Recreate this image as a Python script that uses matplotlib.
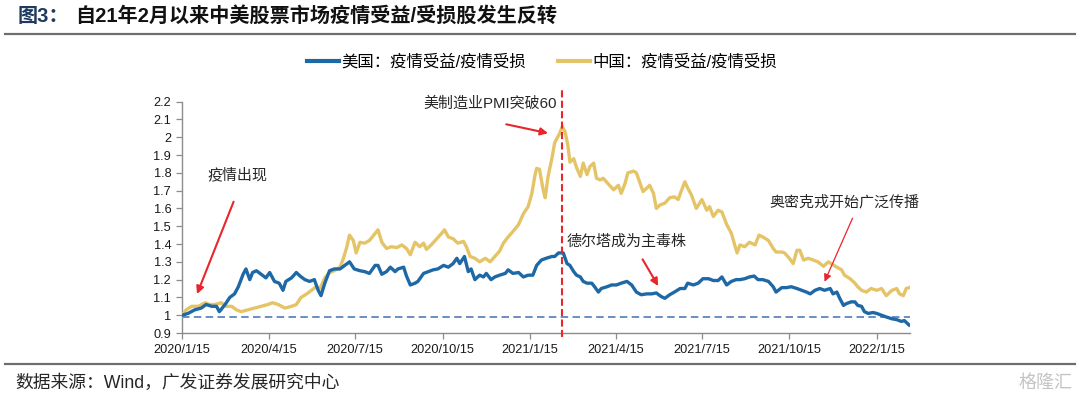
import matplotlib
matplotlib.use("Agg")
import matplotlib.pyplot as plt
import pandas as pd
from matplotlib.lines import Line2D
from matplotlib.ticker import FuncFormatter

plt.rcParams['font.family'] = ['Liberation Sans', 'Noto Sans CJK SC', 'DejaVu Sans']

# ---------------- data ----------------
start_date = "2020-01-15"
end_date = "2022-02-19"

# days since 2020-01-15 and ratio values (US: pandemic-beneficiary / pandemic-hurt)
us_days = [0, 6, 13, 20, 25, 31, 36, 39, 45, 50, 55, 59, 64, 67, 71, 74, 78, 83, 88, 92,
           97, 102, 106, 109, 115, 120, 124, 129, 134, 139, 143, 146, 150, 155, 160, 166, 171, 176, 181, 187,
           192, 197, 203, 206, 210, 215, 219, 224, 227, 233, 236, 240, 245, 248, 254, 259, 264, 269, 275, 280,
           285, 289, 292, 297, 301, 304, 308, 313, 317, 320, 325, 329, 334, 340, 343, 348, 354, 359, 364, 369,
           373, 378, 383, 389,
           392, 396, 401, 405, 408, 412, 415, 419, 422, 426, 431, 434, 438, 441, 447, 452, 457, 462, 468, 473,
           478, 483, 489, 494, 499, 504, 508, 513, 518, 524, 529, 532, 538, 543, 548, 554, 559, 564, 568, 573,
           578, 583,
           587, 592, 597, 602, 606, 611, 617, 622, 625, 631, 636, 641, 647, 652, 657, 661, 666, 671, 676, 682,
           685, 689, 692, 696, 699, 704, 708, 711, 715, 718, 722, 727, 731, 736, 741, 747, 752, 757, 760, 763, 765]
us_values = [1.00, 1.01, 1.03, 1.04, 1.06, 1.05, 1.05, 1.02, 1.06, 1.10, 1.12, 1.16, 1.23, 1.26, 1.20, 1.24, 1.25, 1.23, 1.21, 1.24,
             1.19, 1.18, 1.14, 1.19, 1.21, 1.24, 1.22, 1.20, 1.19, 1.20, 1.14, 1.11, 1.18, 1.25, 1.26, 1.26, 1.28, 1.30, 1.26, 1.25,
             1.245, 1.235, 1.28, 1.28, 1.23, 1.245, 1.27, 1.245, 1.26, 1.27, 1.22, 1.17, 1.18, 1.19, 1.235, 1.245, 1.255, 1.26, 1.28, 1.27,
             1.29, 1.32, 1.29, 1.33, 1.245, 1.26, 1.20, 1.225, 1.215, 1.235, 1.20, 1.215, 1.225, 1.235, 1.255, 1.235, 1.24, 1.215, 1.225, 1.225,
             1.28, 1.31, 1.32, 1.33,
             1.33, 1.35, 1.35, 1.29, 1.28, 1.245, 1.225, 1.215, 1.19, 1.18, 1.18, 1.16, 1.13, 1.15, 1.16, 1.17, 1.17, 1.18, 1.19, 1.17,
             1.13, 1.115, 1.12, 1.12, 1.125, 1.105, 1.095, 1.115, 1.13, 1.15, 1.15, 1.18, 1.17, 1.18, 1.205, 1.205, 1.195, 1.195, 1.215, 1.17,
             1.19, 1.20,
             1.20, 1.205, 1.215, 1.22, 1.20, 1.20, 1.19, 1.16, 1.13, 1.155, 1.155, 1.16, 1.15, 1.14, 1.13, 1.12, 1.14, 1.15, 1.14, 1.15,
             1.12, 1.13, 1.095, 1.055, 1.065, 1.075, 1.075, 1.055, 1.05, 1.02, 1.01, 1.015, 1.01, 1.00, 0.99, 0.98, 0.975, 0.965, 0.97, 0.955, 0.945]

cn_days = [0, 4, 10, 17, 24, 29, 34, 41, 46, 52, 57, 62, 69, 76, 83, 90, 95, 101, 108, 115,
           120, 125, 131, 136, 141, 145, 150, 155, 160, 166, 169, 173, 176, 180, 183, 187,
           192, 197, 203, 206, 210, 215, 220, 226, 231, 236, 240, 245, 250, 254, 257, 262, 268, 273, 276, 280,
           285, 290, 296, 299, 303, 308, 313, 319, 324, 329, 334, 338, 343, 348, 354, 359, 364, 368, 371, 373,
           376, 380, 382, 385, 389, 392,
           397, 400, 403, 406, 408, 412, 415, 419, 422, 426, 429, 433, 436, 440, 443, 448, 454, 459, 462, 466,
           469, 475, 478, 482, 485, 489, 492, 496, 499, 503, 508, 513, 518, 522, 525, 529, 532, 536, 541, 547,
           552, 555, 559, 564, 568, 573, 578, 582, 584,
           587, 592, 597, 603, 607, 611, 617, 622, 625, 631, 634, 639, 643, 647, 650, 654, 659, 664, 669, 675,
           680, 683, 689, 694, 697, 703, 708, 711, 715, 720, 725, 731, 736, 741, 747, 752, 755, 759, 762, 765]
cn_values = [1.00, 1.03, 1.05, 1.05, 1.07, 1.06, 1.06, 1.07, 1.05, 1.05, 1.03, 1.02, 1.03, 1.04, 1.05, 1.06, 1.07, 1.06, 1.04, 1.05,
             1.06, 1.10, 1.12, 1.14, 1.16, 1.15, 1.21, 1.24, 1.25, 1.27, 1.31, 1.38, 1.45, 1.42, 1.35, 1.41,
             1.405, 1.42, 1.46, 1.48, 1.41, 1.375, 1.385, 1.38, 1.395, 1.375, 1.34, 1.41, 1.385, 1.405, 1.37, 1.395, 1.43, 1.46, 1.48, 1.44,
             1.43, 1.405, 1.415, 1.385, 1.33, 1.32, 1.30, 1.32, 1.30, 1.33, 1.36, 1.405, 1.44, 1.47, 1.51, 1.57, 1.61, 1.685, 1.78, 1.825,
             1.82, 1.70, 1.66, 1.78, 1.88, 1.97,
             2.02, 2.06, 2.03, 1.95, 1.86, 1.88, 1.83, 1.78, 1.855, 1.79, 1.835, 1.855, 1.77, 1.76, 1.77, 1.74, 1.705, 1.73, 1.685, 1.74,
             1.80, 1.81, 1.80, 1.74, 1.695, 1.715, 1.73, 1.685, 1.60, 1.62, 1.63, 1.66, 1.665, 1.65, 1.695, 1.75, 1.715, 1.675, 1.60, 1.65,
             1.59, 1.61, 1.555, 1.59, 1.58, 1.51, 1.46, 1.385, 1.35,
             1.395, 1.385, 1.41, 1.395, 1.45, 1.44, 1.42, 1.375, 1.355, 1.355, 1.35, 1.32, 1.29, 1.365, 1.365, 1.31, 1.32, 1.31, 1.30, 1.275,
             1.30, 1.29, 1.27, 1.255, 1.225, 1.205, 1.18, 1.16, 1.14, 1.13, 1.15, 1.14, 1.15, 1.11, 1.14, 1.15, 1.12, 1.11, 1.15, 1.155]

series_labels = ["美国：疫情受益/疫情受损", "中国：疫情受益/疫情受损"]
tick_dates = ["2020-01-15", "2020-04-15", "2020-07-15", "2020-10-15", "2021-01-15",
              "2021-04-15", "2021-07-15", "2021-10-15", "2022-01-15"]
y_ticks = [0.9, 1.0, 1.1, 1.2, 1.3, 1.4, 1.5, 1.6, 1.7, 1.8, 1.9, 2.0, 2.1, 2.2]
baseline_value = 0.99
event_date = "2021-02-18"

# annotations: text, text(day, value, ha), arrow tail(day, value), arrow head(day, value), width
annotations = [
    ("疫情出现", (27, 1.788, "left"), (54, 1.638), (15.5, 1.119), 1.5),
    ("美制造业PMI突破60", (324, 2.19, "center"), (341, 2.073), (385, 2.023), 1.5),
    ("德尔塔成为主毒株", (404.5, 1.413, "left"), (484.5, 1.314), (501, 1.164), 1.5),
    ("奥密克戎开始广泛传播", (697, 1.638, "center"), (705.5, 1.545), (676, 1.188), 0.9),
]

title_prefix = "图3："
title_main = "自21年2月以来中美股票市场疫情受益/受损股发生反转"
source_text = "数据来源：Wind，广发证券发展研究中心"
watermark = "格隆汇"

# ---------------- drawing ----------------
BLUE = "#1f68a6"
GOLD = "#e5c467"
RED = "#e8262b"

t0 = pd.Timestamp(start_date)
us_dates = t0 + pd.to_timedelta(us_days, unit="D")
cn_dates = t0 + pd.to_timedelta(cn_days, unit="D")

fig = plt.figure(figsize=(10.8, 3.99), dpi=100)
W, H = 1080.0, 399.0
ax = fig.add_axes([182.3 / W, 66 / H, (910 - 182.3) / W, (333 - 101.7) / H])

ax.plot(cn_dates, cn_values, color=GOLD, lw=2.4, solid_joinstyle="round", zorder=3)
ax.plot(us_dates, us_values, color=BLUE, lw=2.4, solid_joinstyle="round", zorder=4)

ax.axhline(baseline_value, color="#4f7cba", lw=1.2, ls=(0, (4.5, 2.6)), zorder=2)
ev = pd.Timestamp(event_date)
ax.plot([ev, ev], [0.877, 2.266], color=RED, lw=1.5, ls=(0, (3.4, 1.6)),
        clip_on=False, zorder=5)

ax.set_xlim(t0, pd.Timestamp(end_date))
ax.set_ylim(0.9, 2.2)
ax.set_yticks(y_ticks)
ax.yaxis.set_major_formatter(FuncFormatter(lambda v, p: f"{v:g}"))
ax.set_xticks(pd.to_datetime(tick_dates))
ax.set_xticklabels([f"{d.year}/{d.month}/{d.day}" for d in pd.to_datetime(tick_dates)])

for s in ["top", "right"]:
    ax.spines[s].set_visible(False)
for s in ["left", "bottom"]:
    ax.spines[s].set_color("#8c8c8c")
    ax.spines[s].set_linewidth(1.0)
ax.tick_params(axis="both", colors="#8c8c8c", labelcolor="#1a1a1a", labelsize=9.2,
               length=4, width=0.9, direction="out")
ax.tick_params(axis="y", pad=4)
ax.tick_params(axis="x", pad=4)

cjk = ['Liberation Sans', 'Noto Sans CJK SC']
for text, (tx, ty, ha), (ax0, ay0), (ax1, ay1), lw in annotations:
    ax.text(t0 + pd.Timedelta(days=tx), ty, text, ha=ha, va="center",
            fontsize=10.8, color="#262626", family=cjk, zorder=6)
    ax.annotate("", xy=(t0 + pd.Timedelta(days=ax1), ay1),
                xytext=(t0 + pd.Timedelta(days=ax0), ay0),
                arrowprops=dict(arrowstyle="-|>", color=RED, lw=lw,
                                mutation_scale=11, shrinkA=0, shrinkB=0),
                annotation_clip=False, zorder=6)

# legend
handles = [Line2D([], [], color=BLUE, lw=3), Line2D([], [], color=GOLD, lw=3)]
fig.legend(handles, series_labels, loc="center", bbox_to_anchor=(542 / W, 1 - 62 / H),
           ncol=2, frameon=False, handlelength=1.9, handletextpad=0.15,
           columnspacing=2.0, prop={"family": cjk, "size": 11.8})

# title & rules
fig.text(18 / W, 1 - 16 / H, title_prefix, fontsize=14.5, weight="bold",
         color="#1f3a5f", va="center", ha="left", family=cjk)
fig.text(75 / W, 1 - 16 / H, title_main, fontsize=14.5, weight="bold",
         color="#111111", va="center", ha="left", family=cjk)
fig.add_artist(Line2D([5 / W, 1075 / W], [1 - 33.5 / H] * 2, color="#6e6e6e", lw=1.6,
                      transform=fig.transFigure))
fig.add_artist(Line2D([5 / W, 1075 / W], [1 - 364 / H] * 2, color="#6e6e6e", lw=1.6,
                      transform=fig.transFigure))

fig.text(15 / W, 1 - 383 / H, source_text, fontsize=12.8, color="#262626",
         va="center", ha="left", family=cjk)
fig.text(1073 / W, 1 - 383 / H, watermark, fontsize=13, color="#c4c4c4",
         va="center", ha="right", family=cjk)

fig.savefig("out.png", dpi=100)
